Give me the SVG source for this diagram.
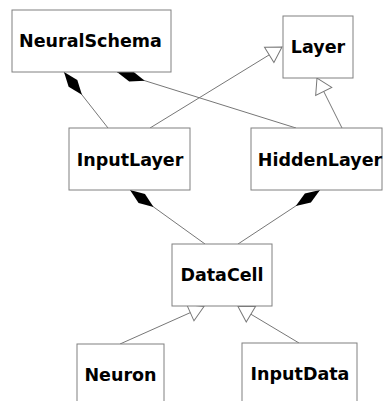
<svg xmlns="http://www.w3.org/2000/svg" width="384" height="401" viewBox="0 0 384 401">
<style>
.box{fill:#fff;stroke:#808080;stroke-width:1}
.lbl{font-family:"DejaVu Sans",sans-serif;font-weight:bold;font-size:17.5px;fill:#000;text-anchor:middle}
.edge{stroke:#777;stroke-width:1;fill:none}
.gen{marker-end:url(#tri)}
.comp{marker-start:url(#dia)}
</style>
<defs>
<marker id="tri" markerUnits="userSpaceOnUse" markerWidth="17" markerHeight="20" refX="15" refY="9.5" orient="auto" overflow="visible">
<path d="M0,0.5 L15,9.5 L0,18.5 Z" fill="#fff" stroke="#777" stroke-width="1"/>
</marker>
<marker id="dia" markerUnits="userSpaceOnUse" markerWidth="30" markerHeight="12" refX="0" refY="6" orient="auto" overflow="visible">
<path d="M0,6 L14.5,0.5 L29,6 L14.5,11.5 Z" fill="#000"/>
</marker>
</defs>
<g id="connectors">
<line class="edge comp" x1="64" y1="72" x2="108" y2="128"/>
<line class="edge comp" x1="117" y1="72" x2="296" y2="128"/>
<line class="edge comp" x1="130" y1="190" x2="205" y2="244"/>
<line class="edge comp" x1="320" y1="190" x2="238" y2="244"/>
<line class="edge gen" x1="150" y1="128" x2="282" y2="47"/>
<line class="edge gen" x1="342" y1="128" x2="317" y2="78"/>
<line class="edge gen" x1="120" y1="344" x2="204" y2="306.5"/>
<line class="edge gen" x1="299" y1="343" x2="238" y2="306.5"/>
</g>
<g id="NeuralSchema"><rect class="box" x="12" y="10" width="159" height="62"/><text class="lbl" x="90.5" y="47">NeuralSchema</text></g>
<g id="Layer"><rect class="box" x="283" y="16" width="70" height="62"/><text class="lbl" x="318" y="53">Layer</text></g>
<g id="InputLayer"><rect class="box" x="69" y="128" width="121" height="62"/><text class="lbl" x="130" y="166">InputLayer</text></g>
<g id="HiddenLayer"><rect class="box" x="251" y="128" width="131" height="62"/><text class="lbl" x="320" y="166">HiddenLayer</text></g>
<g id="DataCell"><rect class="box" x="172" y="244" width="100" height="62"/><text class="lbl" x="222" y="281">DataCell</text></g>
<g id="Neuron"><rect class="box" x="77" y="344" width="87" height="66"/><text class="lbl" x="120.5" y="381">Neuron</text></g>
<g id="InputData"><rect class="box" x="242" y="343" width="115" height="66"/><text class="lbl" x="300" y="380">InputData</text></g>
</svg>
